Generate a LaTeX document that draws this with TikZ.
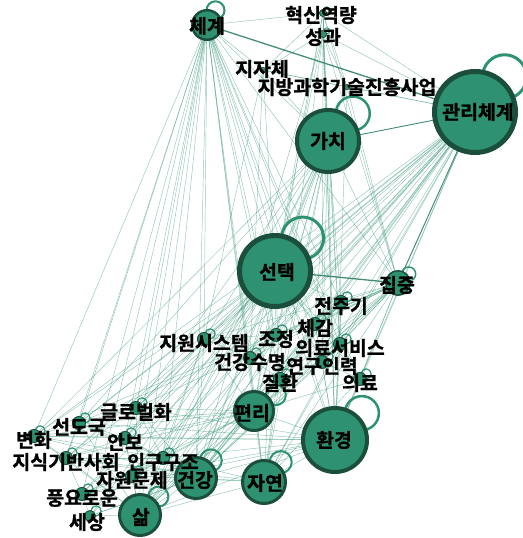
\documentclass[tikz,border=0pt]{standalone}
\usepackage{fontspec}
\newfontfamily\kfont{Noto Sans CJK KR Bold}[FakeBold=1.2]
\usetikzlibrary{calc}
\pgfdeclarelayer{bg}
\pgfdeclarelayer{mid}
\pgfsetlayers{bg,mid,main}
\definecolor{nodefill}{RGB}{46,146,114}
\definecolor{nodeedge}{RGB}{28,78,60}
\definecolor{linkcol}{RGB}{58,152,118}
\tikzset{
  gnode/.style={circle, fill=nodefill, draw=nodeedge, inner sep=0pt},
  lbl/.style={font=\kfont\fontsize{19.5}{19.5}\selectfont, text=black, inner sep=0pt},
  linkline/.style={draw=linkcol, line width=0.45pt, opacity=0.55},
  heavylink/.style={draw=linkcol!85!black, line width=1.3pt, opacity=0.9},
  loopline/.style={draw=nodefill},
}
% \gn{id}{x,y}{outer diameter}{border width}
\newcommand\gn[4]{\node[gnode, line width=#4, minimum size=#3bp-#4] (#1) at (#2) {};}
% \gloop{id}{angle}{distance}{radius}{width}
\newcommand\gloop[5]{\draw[loopline, line width=#5] ($(#1)+(#2:#3bp)$) circle[radius=#4bp];}
\begin{document}
\begin{tikzpicture}[x=1bp, y=-1bp]
\useasboundingbox (0,0) rectangle (523,538);

% nodes
\gn{cg}{207,25}{32}{2.5pt}
\gn{hs}{323,13}{8}{0.8pt}
\gn{sg}{323,34}{8}{0.8pt}
\gn{jj}{263,70}{6}{0.6pt}
\gn{jb}{347,87}{6}{0.6pt}
\gn{gc}{328,141}{66}{4pt}
\gn{gr}{475,112}{86}{5pt}
\gn{st}{275,271}{76}{5pt}
\gn{jz}{398,283}{26}{1.5pt}
\gn{jjg}{341,302}{14}{1pt}
\gn{cgm}{315,324}{14}{1pt}
\gn{jo}{276,335}{14}{1pt}
\gn{ms}{340,344}{14}{1pt}
\gn{ws}{204,339}{14}{1pt}
\gn{gs}{250,358}{14}{1pt}
\gn{yr}{322,362}{14}{1pt}
\gn{jh}{280,379}{14}{1pt}
\gn{ur}{360,379}{14}{1pt}
\gn{gl}{136,408}{14}{1pt}
\gn{pr}{254,411}{42}{3pt}
\gn{hk}{335,440}{68}{4pt}
\gn{sd}{79,423}{14}{1pt}
\gn{bh}{34,436}{14}{1pt}
\gn{ab}{125,438}{14}{1pt}
\gn{jk}{66,458}{14}{1pt}
\gn{ig}{163,458}{14}{1pt}
\gn{jw}{132,476}{14}{1pt}
\gn{gk}{196,478}{44}{3pt}
\gn{jy}{264,482}{46}{3pt}
\gn{py}{82,494}{14}{1pt}
\gn{ss}{90,516}{12}{1pt}
\gn{sm}{140,515}{44}{3pt}

% links
\begin{pgfonlayer}{bg}
\foreach \a/\b in {
  cg/hs, cg/jj, cg/gc, cg/st, cg/jz, cg/ws, cg/gs, cg/jo, cg/jh, cg/pr, cg/gk, cg/jy,
  cg/sm, cg/ig, cg/jw, cg/ab, cg/gl, cg/sd, cg/bh, cg/jk, cg/py, cg/ss, cg/hk, cg/cgm,
  cg/yr, cg/ms, cg/jjg, cg/ur,
  gr/gc, gr/jb, gr/hs, gr/sg, gr/st, gr/jjg, gr/cgm, gr/jo, gr/ms, gr/ws, gr/gs, gr/yr,
  gr/jh, gr/ur, gr/pr, gr/hk, gr/gk, gr/jy, gr/sm, gr/gl, gr/sd, gr/bh, gr/ab, gr/jk,
  gr/ig, gr/jw, gr/py, gr/ss, gr/jj,
  gc/st, gc/jz, gc/jjg, gc/cgm, gc/jo, gc/ms, gc/ws, gc/gs, gc/yr, gc/jh, gc/pr, gc/hk,
  gc/gk, gc/jy, gc/sm, gc/ig, gc/gl, gc/sd, gc/bh, gc/jj, gc/hs, gc/sg,
  hs/sg, hs/jj, hs/jb, hs/jz, hs/st, hs/hk, hs/pr,
  sg/jj, sg/jb, sg/jz, sg/st, sg/hk, sg/gk, sg/jy, sg/yr, sg/ms,
  jj/jb, jj/st, jj/ws, jj/gs, jb/st, jb/jz, jb/hk,
  st/jjg, st/cgm, st/jo, st/ms, st/ws, st/gs, st/yr, st/jh, st/ur, st/pr, st/hk, st/gk,
  st/jy, st/sm, st/ig, st/jw, st/ab, st/gl, st/sd, st/bh, st/jk, st/py, st/ss,
  jz/jjg, jz/cgm, jz/ms, jz/yr, jz/ur, jz/hk, jz/pr, jz/jy, jz/gk, jz/sm, jz/ig, jz/jh,
  jz/jo, jz/gs, jz/ws, jz/gl, jz/sd, jz/bh,
  jjg/cgm, jjg/ms, jjg/yr, jjg/hk, jjg/pr, jjg/gk, jjg/sm, cgm/jo, cgm/ms, cgm/yr,
  cgm/pr, cgm/hk, cgm/gk, jo/gs, jo/jh, jo/pr, jo/ws, jo/gk, jo/sm, ms/yr, ms/ur, ms/hk,
  ms/pr, ms/gk, ms/jy, ws/gs, ws/pr, ws/gk, ws/sm, ws/ig, ws/gl, ws/ab, gs/jh, gs/pr,
  gs/gk, gs/sm, gs/jy, yr/jh, yr/ur, yr/hk, yr/pr, yr/gk, jh/pr, jh/gk, jh/jy, jh/sm,
  ur/hk, ur/pr, ur/jy, gl/pr, gl/gk, gl/sm, gl/sd, gl/ab, gl/ig, gl/jk, gl/hk,
  pr/hk, pr/gk, pr/jy, pr/sm, pr/ig, pr/jw, pr/ab, pr/sd, pr/bh, pr/jk, pr/py,
  hk/gk, hk/jy, hk/sm, hk/ig, hk/jw, hk/py, hk/ab, hk/sd, hk/bh,
  sd/bh, sd/ab, sd/jk, sd/ig, sd/gk, sd/sm, bh/jk, bh/ab, bh/gk, bh/sm, bh/ig,
  ab/jk, ab/ig, ab/jw, ab/gk, ab/sm, jk/ig, jk/jw, jk/py, jk/gk, jk/sm, jk/jy,
  ig/jw, ig/gk, ig/jy, ig/sm, ig/py, jw/gk, jw/sm, jw/py, jw/jy, gk/jy, gk/sm, gk/py,
  gk/ss, jy/sm, py/sm, py/ss, ss/sm, ss/gk}
  \draw[linkline] (\a.center) -- (\b.center);
\draw[heavylink] (cg.center) -- (gr.center);
\draw[heavylink] (st.center) -- (jz.center);
\draw[heavylink, line width=1pt] (gr.center) -- (jz.center);
\draw[heavylink, line width=0.8pt] (gc.center) -- (gr.center);
\end{pgfonlayer}

% self loops
\begin{pgfonlayer}{mid}
\gloop{gr}{50}{46}{22}{3pt}
\gloop{gc}{48}{37}{17}{2.5pt}
\gloop{st}{50}{43}{21}{3pt}
\gloop{hk}{45}{38}{17}{2.5pt}
\gloop{cg}{60}{17}{9}{2pt}
\gloop{pr}{36}{27}{10}{2pt}
\gloop{jy}{50}{26}{11}{2pt}
\gloop{gk}{50}{23}{11}{2pt}
\gloop{sm}{45}{26}{10}{2pt}
\gloop{jz}{40}{14}{7}{1.5pt}
\foreach \n in {jjg,cgm,jo,ms,ws,gs,yr,jh,ur,gl,sd,bh,ab,jk,ig,jw,py,ss}
  {\gloop{\n}{40}{8}{5}{1.2pt}}
\gloop{hs}{40}{5}{3}{0.8pt}
\gloop{sg}{40}{5}{3}{0.8pt}
\end{pgfonlayer}

% labels
\node[lbl] (t-cg) at (207,26) {체계};
\node[lbl] (t-hs) at (321,15) {혁신역량};
\node[lbl] (t-sg) at (323,37) {성과};
\node[lbl] (t-jj) at (262,69) {지자체};
\node[lbl] (t-jb) at (347,87) {지방과학기술진흥사업};
\node[lbl] (t-gc) at (328,141) {가치};
\node[lbl] (t-gr) at (478,112) {관리체계};
\node[lbl] (t-st) at (277,272) {선택};
\node[lbl] (t-jz) at (397,285) {집중};
\node[lbl] (t-jjg) at (341,306) {전주기};
\node[lbl] (t-cgm) at (315,328) {체감};
\node[lbl] (t-jo) at (276,339) {조정};
\node[lbl] (t-ms) at (340,348) {의료서비스};
\node[lbl] (t-ws) at (204,343) {지원시스템};
\node[lbl] (t-gs) at (250,362) {건강수명};
\node[lbl] (t-yr) at (322,366) {연구인력};
\node[lbl] (t-jh) at (280,383) {질환};
\node[lbl] (t-ur) at (360,383) {의료};
\node[lbl] (t-gl) at (136,412) {글로벌화};
\node[lbl] (t-pr) at (252,413) {편리};
\node[lbl] (t-hk) at (334,440) {환경};
\node[lbl] (t-sd) at (79,427) {선도국};
\node[lbl] (t-bh) at (34,440) {변화};
\node[lbl] (t-ab) at (125,442) {안보};
\node[lbl] (t-jk) at (66,462) {지식기반사회};
\node[lbl] (t-ig) at (163,462) {인구구조};
\node[lbl] (t-jw) at (132,480) {자원문제};
\node[lbl] (t-gk) at (195,480) {건강};
\node[lbl] (t-jy) at (265,483) {자연};
\node[lbl] (t-py) at (82,498) {풍요로운};
\node[lbl] (t-ss) at (87,522) {세상};
\node[lbl] (t-sm) at (141,517) {삶};
\end{tikzpicture}
\end{document}
